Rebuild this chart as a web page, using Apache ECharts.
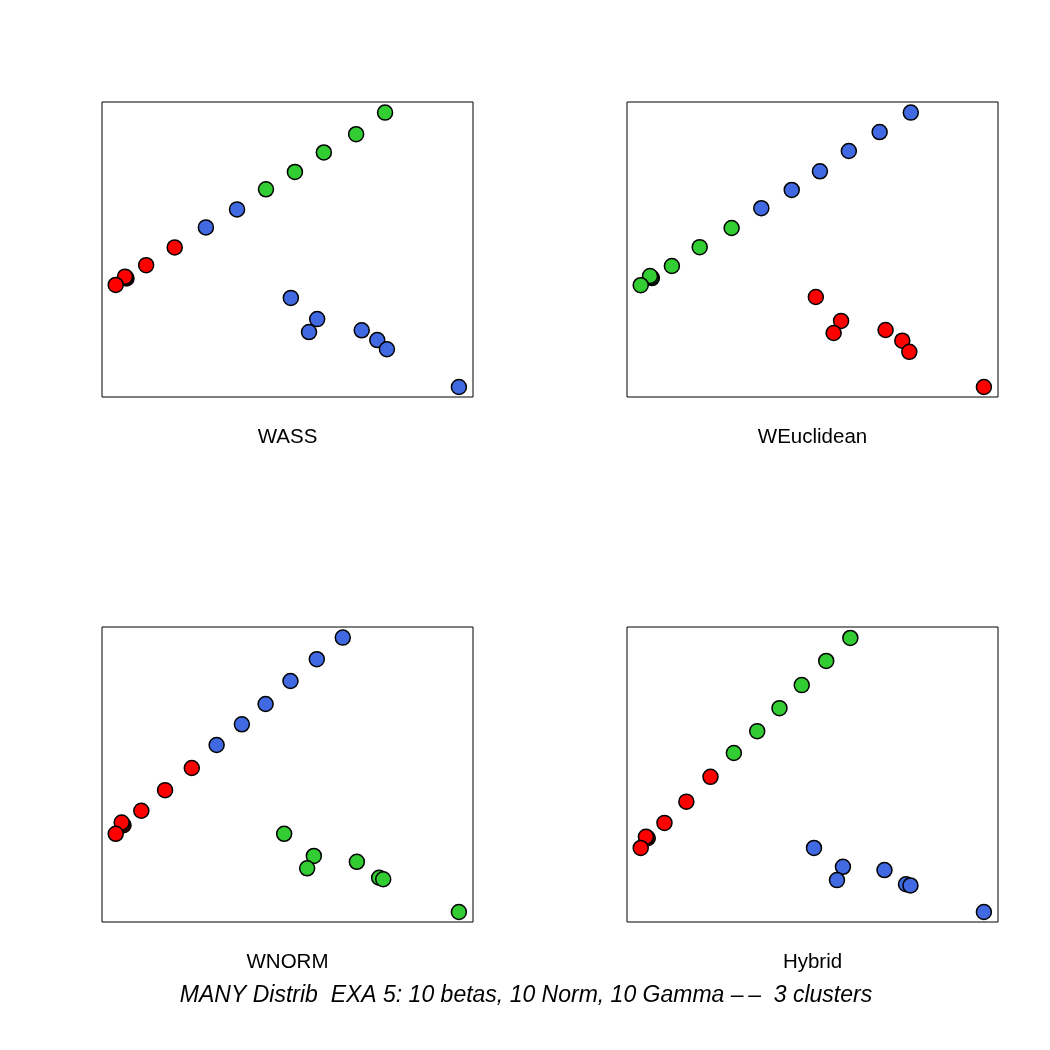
<!DOCTYPE html>
<html>
<head>
<meta charset="utf-8">
<script src="https://cdn.jsdelivr.net/npm/echarts@6/dist/echarts.min.js"></script>
<style>
  html, body { margin: 0; padding: 0; background: #fff; }
  #main { width: 1050px; height: 1050px; }
</style>
</head>
<body>
<div id="main"></div>
<script>
// panel names and the overall caption
const panelNames = ["WASS", "WEuclidean", "WNORM", "Hybrid"];
const caption = "MANY Distrib  EXA 5: 10 betas, 10 Norm, 10 Gamma \u2013\u2009\u2013  3 clusters";

// WASS
const wassRed = [[1.96, 5.07], [1.19, 4.47], [0.66, 4.02], [0.64, 4.05], [0.62, 4.08], [0.37, 3.80]];
const wassGreen = [[7.63, 9.64], [6.85, 8.91], [5.98, 8.29], [5.20, 7.63], [4.42, 7.04]];
const wassBlue = [[3.64, 6.36], [2.80, 5.75], [5.09, 3.36], [5.80, 2.64], [5.58, 2.20],
  [7.00, 2.26], [7.42, 1.93], [7.68, 1.62], [9.62, 0.34]];

// WEuclidean
const weucRed = [[5.09, 3.39], [5.77, 2.58], [5.57, 2.17], [6.97, 2.27], [7.42, 1.91], [7.61, 1.53], [9.62, 0.34]];
const weucGreen = [[2.82, 5.73], [1.96, 5.08], [1.21, 4.44], [0.67, 4.03], [0.65, 4.06], [0.62, 4.10], [0.37, 3.79]];
const weucBlue = [[7.65, 9.64], [6.81, 8.98], [5.98, 8.34], [5.20, 7.65], [4.44, 7.02], [3.62, 6.40]];

// WNORM
const wnormRed = [[2.42, 5.22], [1.70, 4.47], [1.06, 3.77], [0.58, 3.28], [0.55, 3.32], [0.53, 3.37], [0.37, 2.99]];
const wnormGreen = [[4.91, 2.99], [5.71, 2.24], [5.53, 1.82], [6.87, 2.04], [7.47, 1.50], [7.58, 1.45], [9.62, 0.34]];
const wnormBlue = [[6.49, 9.64], [5.79, 8.91], [5.08, 8.17], [4.41, 7.39], [3.77, 6.70], [3.09, 6.00]];

// Hybrid
const hybRed = [[2.25, 4.92], [1.60, 4.08], [1.01, 3.36], [0.56, 2.84], [0.53, 2.87], [0.51, 2.89], [0.37, 2.51]];
const hybGreen = [[6.02, 9.63], [5.37, 8.85], [4.71, 8.03], [4.11, 7.25], [3.51, 6.47], [2.88, 5.73]];
const hybBlue = [[5.04, 2.51], [5.82, 1.87], [5.66, 1.42], [6.94, 1.76], [7.52, 1.28], [7.64, 1.24], [9.62, 0.34]];

const panelData = [
  { red: wassRed, green: wassGreen, blue: wassBlue },
  { red: weucRed, green: weucGreen, blue: weucBlue },
  { red: wnormRed, green: wnormGreen, blue: wnormBlue },
  { red: hybRed, green: hybGreen, blue: hybBlue },
];

const colors = { red: "#ff0000", green: "#32cd32", blue: "#4169e1" };
const boxes = [
  { left: 102, top: 102 },
  { left: 627, top: 102 },
  { left: 102, top: 627 },
  { left: 627, top: 627 },
];
const boxW = 371;
const boxH = 295;

const grid = [];
const xAxis = [];
const yAxis = [];
const series = [];
const graphic = [];

boxes.forEach((b, i) => {
  grid.push({
    left: b.left, top: b.top, width: boxW, height: boxH,
    show: true, borderColor: "#000", borderWidth: 1, backgroundColor: "transparent",
  });
  const hidden = {
    gridIndex: i, type: "value", min: 0, max: 10,
    axisLine: { show: false }, axisTick: { show: false },
    axisLabel: { show: false }, splitLine: { show: false },
  };
  xAxis.push(Object.assign({}, hidden));
  yAxis.push(Object.assign({}, hidden));
  ["blue", "green", "red"].forEach((c) => {
    series.push({
      type: "scatter",
      xAxisIndex: i,
      yAxisIndex: i,
      symbolSize: 15,
      data: panelData[i][c],
      itemStyle: { color: colors[c], borderColor: "#000", borderWidth: 1.5, opacity: 1 },
      silent: true,
      animation: false,
    });
  });
  graphic.push({
    type: "text",
    x: b.left + boxW / 2,
    y: b.top + boxH + 40,
    style: {
      text: panelNames[i],
      fill: "#000",
      font: "20.5px 'Liberation Sans', Arial, sans-serif",
      textAlign: "center",
      textVerticalAlign: "middle",
    },
  });
});

graphic.push({
  type: "text",
  x: 526,
  y: 996,
  style: {
    text: caption,
    fill: "#000",
    font: "italic 23px 'Liberation Sans', Arial, sans-serif",
    textAlign: "center",
    textVerticalAlign: "middle",
  },
});

const chart = echarts.init(document.getElementById("main"));
chart.setOption({
  backgroundColor: "#fff",
  animation: false,
  grid: grid,
  xAxis: xAxis,
  yAxis: yAxis,
  series: series,
  graphic: graphic,
});
</script>
</body>
</html>
